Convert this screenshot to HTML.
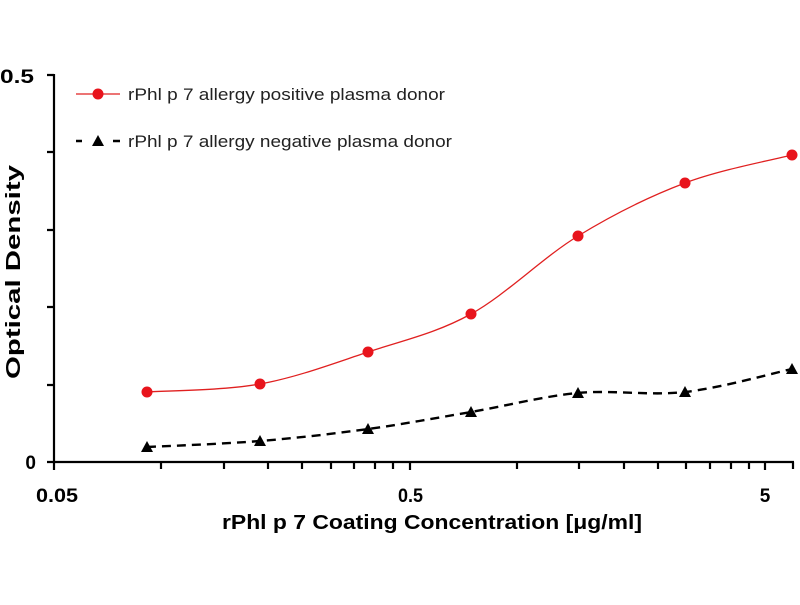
<!DOCTYPE html>
<html><head><meta charset="utf-8"><style>
body{margin:0;background:#fff;width:800px;height:600px;overflow:hidden}
text{font-family:"Liberation Sans",sans-serif}
</style></head><body>
<svg id="s" width="800" height="600" xmlns="http://www.w3.org/2000/svg">
<g stroke="#000" stroke-width="2.2" fill="none">
<line x1="54" y1="74" x2="54" y2="463"/>
<line x1="53" y1="462" x2="794" y2="462"/>
<path d="M47 75H54M47 152H54M47 230H54M47 307H54M47 385H54M47 462H54"/>
<path d="M54 462v8M161 462v7M224 462v7M268 462v7M302 462v7M331 462v7M354 462v7M375 462v7M393 462v7M410 462v8M517 462v7M579 462v7M624 462v7M658 462v7M686 462v7M710 462v7M731 462v7M749 462v7M765 462v8M793 462v7"/>
</g>
<g font-weight="bold" font-size="19" fill="#000">
<text x="36" y="469" text-anchor="end">0</text>
<text x="0" y="83" textLength="34" lengthAdjust="spacingAndGlyphs">0.5</text>
<text x="36" y="502" textLength="42" lengthAdjust="spacingAndGlyphs">0.05</text>
<text x="398" y="502" textLength="25" lengthAdjust="spacingAndGlyphs">0.5</text>
<text x="765" y="502" text-anchor="middle">5</text>
<text x="222" y="529" font-size="20" textLength="420" lengthAdjust="spacingAndGlyphs">rPhl p 7 Coating Concentration [μg/ml]</text>
<text transform="translate(20,379) rotate(-90)" font-size="20" textLength="214" lengthAdjust="spacingAndGlyphs">Optical Density</text>
</g>
<path id="red" stroke="#e02020" stroke-width="1.3" fill="none"/>
<path id="blk" stroke="#000" stroke-width="2.4" stroke-dasharray="9,6" fill="none"/>
<g id="marks"></g>
<line x1="76" y1="94" x2="120" y2="94" stroke="#e02020" stroke-width="1.3"/>
<circle cx="98" cy="94" r="5.5" fill="#e8141c"/>
<path d="M76 141H82M113 141H120" stroke="#000" stroke-width="2.4"/>
<polygon points="98,135 104,146 92,146" fill="#000"/>
<g font-size="17" fill="#222">
<text x="128" y="100" textLength="317" lengthAdjust="spacingAndGlyphs">rPhl p 7 allergy positive plasma donor</text>
<text x="128" y="147" textLength="324" lengthAdjust="spacingAndGlyphs">rPhl p 7 allergy negative plasma donor</text>
</g>
</svg>
<script>
var xs=[147,260,368,471,578,685,792];
var r=[392,384,352,314,236,183,155], b=[447,441,429,412,393,392,369];
function sm(ys){var p=xs.map((x,i)=>[x,ys[i]]);var d="M"+p[0];for(var i=0;i<p.length-1;i++){var p0=p[i-1]||p[i],p1=p[i],p2=p[i+1],p3=p[i+2]||p2;var t=0.5/3;d+=" C"+(p1[0]+(p2[0]-p0[0])*t)+","+(p1[1]+(p2[1]-p0[1])*t)+" "+(p2[0]-(p3[0]-p1[0])*t)+","+(p2[1]-(p3[1]-p1[1])*t)+" "+p2[0]+","+p2[1];}return d;}
document.getElementById('red').setAttribute('d',sm(r));
document.getElementById('blk').setAttribute('d',sm(b));
var m="";xs.forEach((x,i)=>{m+='<circle cx="'+x+'" cy="'+r[i]+'" r="5.5" fill="#e8141c"/>';m+='<polygon points="'+x+','+(b[i]-6)+' '+(x+6)+','+(b[i]+5)+' '+(x-6)+','+(b[i]+5)+'" fill="#000"/>';});
document.getElementById('marks').innerHTML=m;
</script>
</body></html>
